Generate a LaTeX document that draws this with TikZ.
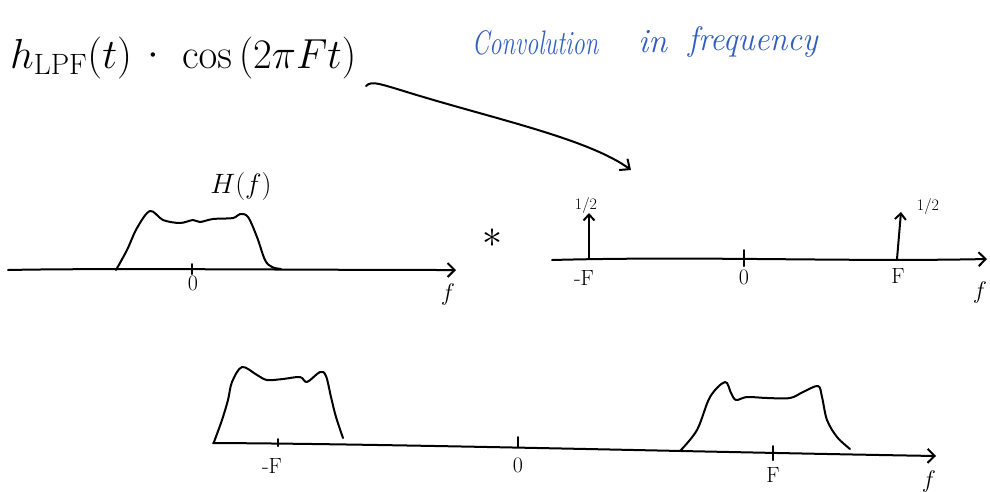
\RequirePackage{fix-cm}
\documentclass[tikz,border=0pt]{standalone}
\usetikzlibrary{arrows.meta}
\definecolor{penblue}{RGB}{50,95,190}
\begin{document}
\begin{tikzpicture}[x=1pt,y=-1pt,
  pen/.style={line width=2pt,line cap=round,line join=round},
  axisarrow/.style={pen,-{Straight Barb[length=7pt,width=14pt,line width=2pt]}},
  lbl/.style={inner sep=0pt,font=\fontsize{22}{24}\selectfont},
  flbl/.style={inner sep=0pt,font=\fontsize{24}{26}\selectfont},
  half/.style={inner sep=0pt,font=\fontsize{16}{18}\selectfont},
  big/.style={inner sep=0pt,font=\fontsize{42}{48}\selectfont},
  blue/.style={inner sep=0pt,text=penblue,font=\fontsize{34}{38}\selectfont\itshape}]
\useasboundingbox (0,0) rectangle (990,491);
% title formula
\node[big,anchor=base west] (hlpf) at (10,68) {$h_{\mathrm{LPF}}(t)$};
\node[big] (dot) at (153,56) {$\cdot$};
\node[big,anchor=base west] (cosf) at (182,68) {\scalebox{0.97}[1]{$\cos\,(2\pi F t)$}};
% blue remark
\node[blue,anchor=base west] (conv) at (472,54) {\scalebox{0.72}[1]{Convolution}};
\node[blue,anchor=base west] (inw) at (638,52) {in};
\node[blue,anchor=base west] (freq) at (688,50) {\scalebox{0.96}[1]{frequency}};
% curved arrow
\coordinate (arrS) at (366,86);
\coordinate (arrE) at (631,170);
\draw[pen,-{Straight Barb[length=8pt,width=14pt,line width=2pt]}] (arrS) .. controls (372,80) and (380,84) .. (420,96) .. controls (500,120) and (590,140) .. (arrE);
% ---- plot 1: H(f)
\coordinate (a1s) at (8,270);
\coordinate (a1e) at (456,270);
\draw[axisarrow] (a1s) .. controls (100,268) and (300,270) .. (a1e);
\draw[pen] plot[smooth,tension=0.55] coordinates {(116,270) (127,250) (137,228) (150,211) (163,220) (180,223) (193,220) (200,222) (213,219) (233,218) (240,214) (248,217) (257,237) (265,260) (272,267) (281,269)};
\coordinate (t1a) at (192,264);
\coordinate (t1b) at (192,274);
\draw[pen] (t1a) -- (t1b);
\node[lbl] (z1) at (193,283) {0};
\node[inner sep=0pt,font=\fontsize{28}{30}\selectfont] (Hf) at (241,186) {$H(f)$};
\node[flbl] (f1) at (448,294) {$f$};
% convolution star
\node[inner sep=0pt,font=\fontsize{40}{40}\selectfont] (star) at (492,238) {$\ast$};
% ---- plot 2: impulses
\coordinate (a2s) at (552,260);
\coordinate (a2e) at (987,259);
\draw[axisarrow] (a2s) .. controls (700,256) and (850,262) .. (a2e);
\coordinate (d1b) at (589,259);
\coordinate (d1t) at (589,213);
\draw[pen,-{Straight Barb[length=6pt,width=11pt,line width=2pt]}] (d1b) -- (d1t);
\coordinate (d2b) at (897,259);
\coordinate (d2t) at (901,212);
\draw[pen,-{Straight Barb[length=6pt,width=11pt,line width=2pt]}] (d2b) -- (d2t);
\node[half] (h1) at (586,205) {1/2};
\node[half] (h2) at (928,206) {1/2};
\coordinate (t2a) at (744,250);
\coordinate (t2b) at (744,266);
\draw[pen] (t2a) -- (t2b);
\node[lbl] (mF2) at (584,278) {-F};
\node[lbl] (z2) at (744,277) {0};
\node[lbl] (F2) at (898,276) {F};
\node[flbl] (f2) at (980,292) {$f$};
% ---- plot 3: result
\coordinate (a3s) at (213,443);
\coordinate (a3e) at (936,456);
\draw[axisarrow] (a3s) .. controls (400,444) and (700,452) .. (a3e);
\draw[pen] plot[smooth,tension=0.55] coordinates {(214,442) (222,420) (228,400) (232,382) (242,367) (257,375) (267,380) (283,379) (300,377) (307,382) (320,372) (326,376) (331,397) (336,417) (343,438)};
\draw[pen] plot[smooth,tension=0.55] coordinates {(680,451) (697,430) (710,397) (725,382) (731,393) (736,400) (747,397) (767,398) (790,398) (803,392) (818,386) (822,397) (827,420) (837,437) (850,449)};
\coordinate (t3a) at (278,439);
\coordinate (t3b) at (278,446);
\draw[pen] (t3a) -- (t3b);
\coordinate (t4a) at (518,437);
\coordinate (t4b) at (518,447);
\draw[pen] (t4a) -- (t4b);
\coordinate (t5a) at (773,446);
\coordinate (t5b) at (773,460);
\draw[pen] (t5a) -- (t5b);
\node[lbl] (mF3) at (272,466) {-F};
\node[lbl] (z3) at (518,465) {0};
\node[lbl] (F3) at (773,475) {F};
\node[flbl] (f3) at (929,481) {$f$};
\end{tikzpicture}
\end{document}
